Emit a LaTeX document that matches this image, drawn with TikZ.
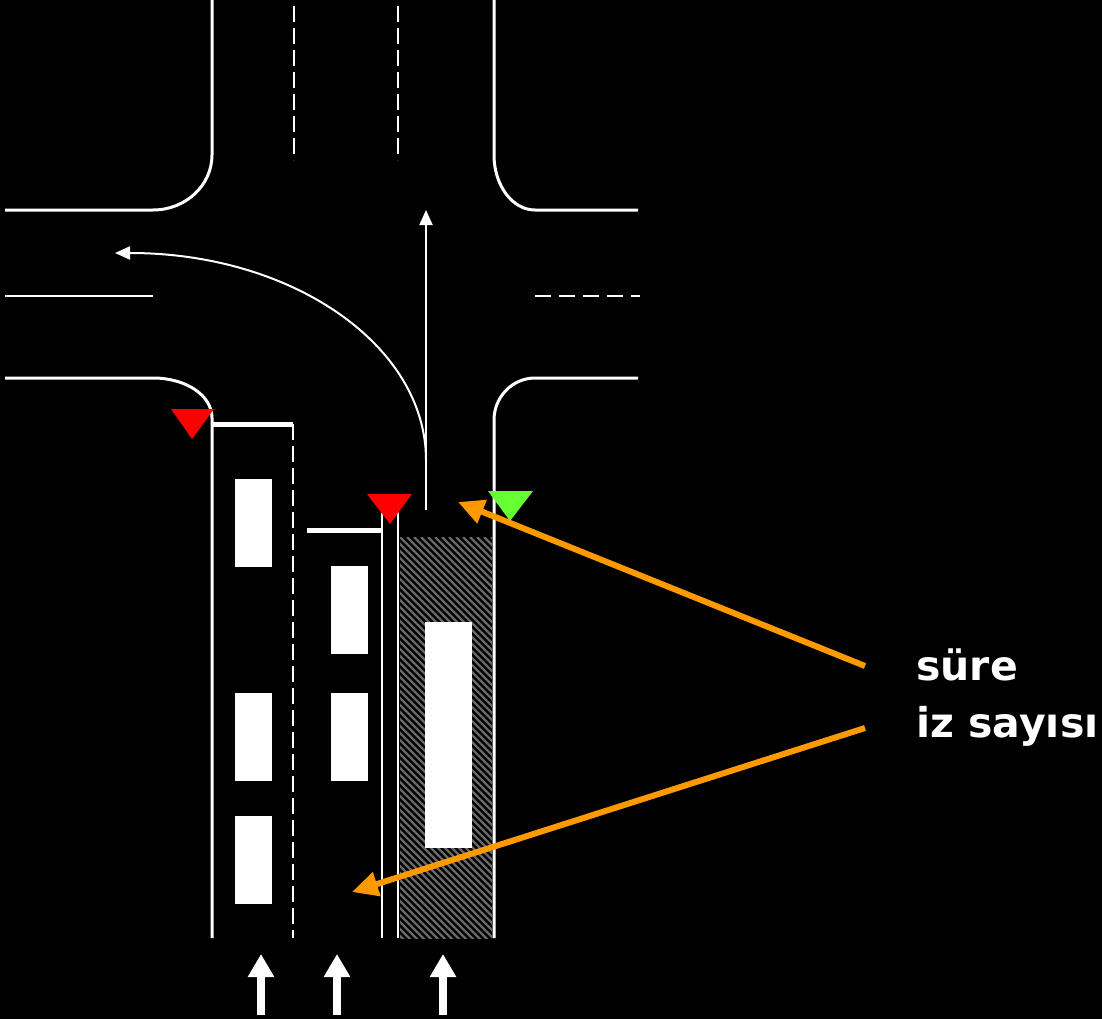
\documentclass[tikz,border=0pt]{standalone}
\usepackage{fontspec}
\setmainfont{DejaVu Sans}
\usetikzlibrary{arrows.meta}
\definecolor{sigred}{RGB}{255,0,0}
\definecolor{siggreen}{RGB}{102,255,51}
\definecolor{arrorange}{RGB}{255,153,0}
\definecolor{hatchgray}{RGB}{105,105,105}
\tikzset{
  edge/.style={white, line width=3pt},
  laneline/.style={white, line width=2pt},
  dashline/.style={white, line width=2.5pt, dash pattern=on 16pt off 6pt},
  stopline/.style={white, line width=5pt},
  car/.style={fill=white, draw=none, inner sep=0pt, minimum width=37pt, minimum height=88pt},
  lbl/.style={white, font=\bfseries\fontsize{41}{50}\selectfont, inner sep=0pt, anchor=base west},
  pointer/.style={arrorange, line width=6pt, -{Triangle[length=26pt,width=24pt]}},
  flow/.style={white, line width=2pt, -{Triangle[length=15pt,width=13pt]}},
  inflow/.style={white, line width=8pt, -{Triangle[length=23pt,width=25pt]}},
}
\begin{document}
\begin{tikzpicture}[x=1pt,y=-1pt]
\fill[black] (0,0) rectangle (1102,1019);
\useasboundingbox (0,0) rectangle (1102,1019);
\begin{scope}
\clip (0,0) rectangle (1102,1019);
% road edges
\draw[edge] (212,0) -- (212,155) .. controls (212,185.4) and (185.6,210) .. (153,210) -- (5,210);
\draw[edge] (494,0) -- (494,155) .. controls (494,185.4) and (512.4,210) .. (535,210) -- (638,210);
\draw[edge] (5,378) -- (153,378) .. controls (185.6,378) and (212,395) .. (212,418) -- (212,938);
\draw[edge] (638,378) -- (535,378) .. controls (512.4,378) and (494,397) .. (494,420) -- (494,938);
% center lines
\draw[dashline] (294,6) -- (294,160);
\draw[dashline] (398,6) -- (398,160);
\draw[laneline] (5,296) -- (153,296);
\draw[white, line width=2pt, dash pattern=on 16pt off 8pt] (535,296) -- (640,296);
% approach lanes
\draw[dashline] (293,424) -- (293,938);
\draw[laneline] (382,512) -- (382,938);
\draw[laneline] (398,512) -- (398,938);
\draw[stopline] (212,424) -- (293,424);
\draw[stopline] (307,530) -- (381,530);
% hatched lane
\begin{scope}
\clip (400,537) rectangle (492,938);
\foreach \i in {-420,-413,...,100}
  \draw[hatchgray, line width=2.2pt] (400+\i,537) -- ++(420,420);
\end{scope}
% vehicles
\node[car] (c1) at (253.5,523) {};
\node[car] (c2) at (253.5,737) {};
\node[car] (c3) at (253.5,860) {};
\node[car] (c4) at (349,610) {};
\node[car] (c5) at (349,737) {};
\node[car, minimum width=47pt, minimum height=226pt] (bus) at (448.5,735) {};
% movement arrows
\coordinate (sstart) at (426,510);
\coordinate (stip) at (426,210);
\coordinate (tstart) at (426,460);
\coordinate (tend) at (130,253);
\coordinate (ttip) at (115,253);
\draw[flow] (sstart) -- (stip);
\draw[flow] (tstart) .. controls (426,346) and (293,253) .. (tend) -- (ttip);
% signals
\fill[sigred] (171,409) -- (214,409) -- (192,439) -- cycle;
\fill[sigred] (367,494) -- (412,494) -- (390,524) -- cycle;
\fill[siggreen] (488,491) -- (533,491) -- (510,521) -- cycle;
% inflow arrows
\coordinate (a1s) at (261,1015); \coordinate (a1t) at (261,954);
\coordinate (a2s) at (337,1015); \coordinate (a2t) at (337,954);
\coordinate (a3s) at (443,1015); \coordinate (a3t) at (443,954);
\draw[inflow] (a1s) -- (a1t);
\draw[inflow] (a2s) -- (a2t);
\draw[inflow] (a3s) -- (a3t);
% labels
\node[lbl] (t1) at (916,680) {süre};
\node[lbl] (t2) at (916,737) {iz sayısı};
\coordinate (p1s) at (865,666);
\coordinate (p1t) at (458,502);
\coordinate (p2s) at (865,728);
\coordinate (p2t) at (352,892);
\draw[pointer] (p1s) -- (p1t);
\draw[pointer] (p2s) -- (p2t);
\end{scope}
\end{tikzpicture}
\end{document}
